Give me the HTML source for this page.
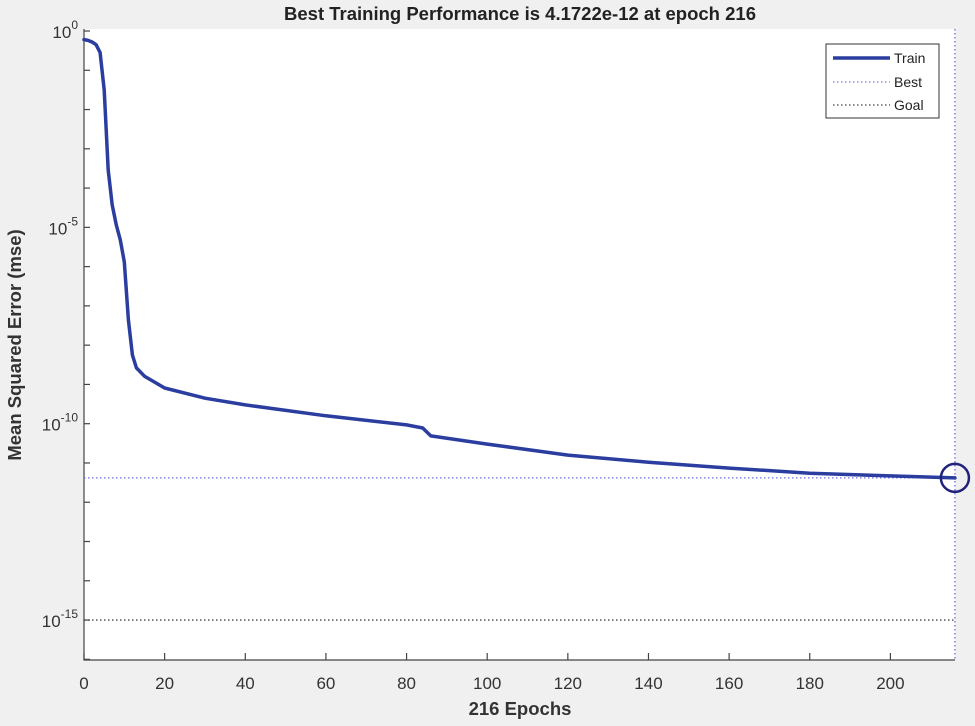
<!DOCTYPE html>
<html><head><meta charset="utf-8"><style>
body{margin:0;background:#f0f0f0;}
svg{display:block;font-family:"Liberation Sans",sans-serif;}
</style></head><body>
<svg width="975" height="726">
<rect x="0" y="0" width="975" height="726" fill="#f0f0f0"/>
<rect x="84" y="29" width="871" height="631" fill="#fff"/>
<g id="ticks"></g>
<g id="marks"></g>
<text x="520" y="20" text-anchor="middle" font-size="18.5" font-weight="bold" fill="#222">Best Training Performance is 4.1722e-12 at epoch 216</text>
<text x="520" y="715" text-anchor="middle" font-size="18.5" font-weight="bold" fill="#333">216 Epochs</text>
<text transform="translate(21,345) rotate(-90)" text-anchor="middle" font-size="18.5" font-weight="bold" fill="#333">Mean Squared Error  (mse)</text>
<g>
<rect x="826" y="44" width="113" height="74" fill="#fff" stroke="#333" stroke-width="1"/>
<line x1="833" y1="58" x2="890" y2="58" stroke="#2b3ea0" stroke-width="3.5"/>
<text x="894" y="63" font-size="14" fill="#222">Train</text>
<line x1="833" y1="82" x2="890" y2="82" stroke="#8080e0" stroke-width="1.3" stroke-dasharray="1.5,2.5"/>
<text x="894" y="87" font-size="14" fill="#222">Best</text>
<line x1="833" y1="105" x2="890" y2="105" stroke="#444" stroke-width="1.3" stroke-dasharray="1.5,2.5"/>
<text x="894" y="110" font-size="14" fill="#222">Goal</text>
</g>
</svg>
<script>
const epochs=[0,1,2,3,4,5,6,7,8,9,10,11,12,13,15,20,30,40,60,80,84,86,100,120,140,160,180,200,216];
const logMse=[-0.22,-0.24,-0.28,-0.35,-0.55,-1.5,-3.54,-4.43,-4.94,-5.32,-5.88,-7.36,-8.25,-8.58,-8.79,-9.09,-9.35,-9.52,-9.8,-10.03,-10.11,-10.31,-10.52,-10.8,-10.98,-11.13,-11.26,-11.33,-11.38];
const xTicks=[0,20,40,60,80,100,120,140,160,180,200];
const yDecades=[0,-5,-10,-15];
const bestEpoch=216;
const bestLog=Math.log10(4.1722e-12);
const goalLog=-15;
const NS='http://www.w3.org/2000/svg';
function X(e){return 84+e*4.032;}
function Y(l){return 31-l*39.27;}
function mk(tag,attrs,parent){const el=document.createElementNS(NS,tag);for(const k in attrs)el.setAttribute(k,attrs[k]);parent.appendChild(el);return el;}
const tk=document.getElementById('ticks'),mg=document.getElementById('marks');
let ax=mk('path',{d:'M84,29 V660 H955',fill:'none',stroke:'#444','stroke-width':1.2},tk);


xTicks.forEach(t=>{
 let l=mk('line',{x1:X(t),x2:X(t),y1:660,y2:653,stroke:'#444','stroke-width':1.2},tk);
 
 
 let tx=mk('text',{x:X(t),y:689,'text-anchor':'middle','font-size':17,fill:'#333'},tk);
 tx.textContent=t;
 
 
});
for(let d=0;d>=-16;d--){
 let l=mk('line',{x1:84,x2:90,y1:Y(d),y2:Y(d),stroke:'#444','stroke-width':1.2},tk);
 
 
}
yDecades.forEach(d=>{
 let tx=mk('text',{x:78,y:Y(d)+7,'text-anchor':'end','font-size':17,fill:'#333'},tk);
 tx.textContent='10';
 let s=mk('tspan',{dy:-9,'font-size':12},tx);
 s.textContent=String(d);
 
 
});
let g=mk('line',{x1:84,x2:955,y1:Y(goalLog),y2:Y(goalLog),stroke:'#444','stroke-width':1.3,'stroke-dasharray':'1.5,2.5'},mg);


let bh=mk('line',{x1:84,x2:955,y1:Y(bestLog),y2:Y(bestLog),stroke:'#7070dd','stroke-width':1.3,'stroke-dasharray':'1.5,2.5'},mg);


let bv=mk('line',{x1:X(bestEpoch),x2:X(bestEpoch),y1:29,y2:660,stroke:'#7070dd','stroke-width':1.3,'stroke-dasharray':'1.5,2.5'},mg);


let d=epochs.map((e,i)=>(i?'L':'M')+X(e).toFixed(1)+','+Y(logMse[i]).toFixed(1)).join(' ');
let tr=mk('path',{d:d,fill:'none',stroke:'#2b3ea0','stroke-width':3.5,'stroke-linejoin':'round','stroke-linecap':'round'},mg);


let c=mk('circle',{cx:X(bestEpoch),cy:Y(bestLog),r:14,fill:'none',stroke:'#1f237a','stroke-width':2.5},mg);


</script>
</body></html>
